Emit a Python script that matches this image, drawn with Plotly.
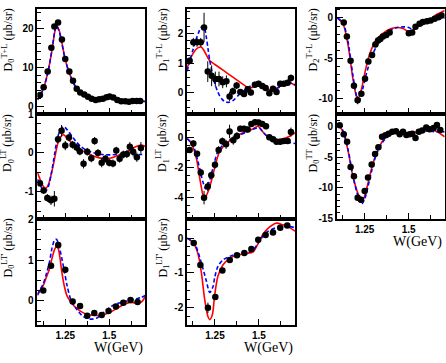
import plotly.graph_objects as go

# ---------------- data ----------------
# Panel A: D0 T+L
W_A = [1.106,1.127,1.150,1.171,1.188,1.209,1.231,1.250,1.273,1.294,1.315,1.335,1.358,1.379,1.400,1.423,1.443,1.464,1.485,1.502,1.523,1.546,1.568,1.591,1.612,1.633,1.656,1.676]
V_A = [2.85,4.85,8.9,15.0,20.5,21.5,17.1,12.1,8.9,6.5,4.5,3.5,3.0,2.4,1.9,1.6,1.75,1.9,2.3,2.5,2.2,1.6,1.25,1.25,1.1,1.35,1.35,1.35]
E_A = [0.3,0.3,0.4,0.5,0.5,0.5,0.5,0.4,0.3,0.3,0.3,0.2,0.2,0.2,0.2,0.2,0.2,0.2,0.2,0.2,0.2,0.2,0.2,0.2,0.2,0.2,0.2,0.2]
CW_A = [1.092,1.10,1.125,1.15,1.175,1.19,1.20,1.215,1.23,1.25,1.275,1.30,1.325,1.35,1.375,1.40,1.425,1.45,1.475,1.50,1.525,1.55,1.575,1.60,1.625,1.65,1.675,1.705]
RED_A = [1.7,2.3,4.5,8.5,14.5,19.0,20.7,19.5,16.5,12.0,8.3,5.7,4.0,3.0,2.4,1.9,1.7,1.85,2.2,2.4,2.1,1.6,1.2,1.1,1.1,1.2,1.3,1.2]
BLUE_A = [1.6,2.2,4.4,8.4,14.6,19.2,20.6,19.3,16.3,11.9,8.2,5.6,3.9,2.9,2.3,1.8,1.6,1.8,2.1,2.3,2.0,1.5,1.1,1.0,1.1,1.2,1.3,1.2]

# Panel B: D0 LT
W_B = [1.106,1.127,1.148,1.169,1.188,1.209,1.229,1.250,1.271,1.292,1.315,1.333,1.354,1.375,1.398,1.417,1.436,1.457,1.478,1.500,1.521,1.540,1.559,1.580,1.600,1.617,1.636,1.657,1.680]
V_B = [-0.78,-0.97,-1.16,-1.22,-1.18,0.35,0.57,0.19,0.40,0.21,0.14,0.04,-0.28,0.03,-0.14,0.31,0.0,-0.25,-0.15,-0.25,-0.27,0.06,-0.15,-0.04,-0.03,0.16,0.03,-0.11,0.13]
E_B = [0.08,0.08,0.1,0.12,0.2,0.1,0.15,0.12,0.1,0.1,0.1,0.1,0.12,0.1,0.1,0.1,0.1,0.12,0.1,0.1,0.1,0.1,0.1,0.1,0.1,0.12,0.12,0.12,0.15]
CW_B = [1.092,1.11,1.125,1.14,1.155,1.17,1.185,1.20,1.215,1.24,1.26,1.29,1.31,1.34,1.37,1.40,1.43,1.46,1.48,1.51,1.54,1.57,1.60,1.63,1.65,1.68,1.705]
RED_B = [-0.5,-0.72,-0.86,-0.91,-0.8,-0.55,-0.25,0.1,0.35,0.47,0.38,0.25,0.18,0.08,0.0,-0.06,-0.11,-0.14,-0.15,-0.13,-0.08,-0.03,0.03,0.11,0.16,0.2,0.17]
BLUE_B = [-0.68,-0.85,-0.95,-0.98,-0.85,-0.55,-0.15,0.25,0.52,0.68,0.6,0.42,0.3,0.16,0.07,0.02,-0.02,-0.04,-0.05,-0.05,-0.04,-0.04,-0.03,-0.03,-0.04,-0.04,-0.04]

# Panel C: D0 LT'
W_C = [1.125,1.169,1.210,1.250,1.292,1.334,1.375,1.415,1.457,1.496,1.538,1.580,1.621,1.661]
V_C = [0.25,0.86,1.37,0.76,-0.02,-0.13,-0.37,-0.30,-0.35,-0.25,-0.14,-0.05,0.02,-0.03]
E_C = [0.04,0.05,0.06,0.05,0.04,0.03,0.04,0.03,0.03,0.03,0.03,0.03,0.03,0.03]
CW_C = [1.092,1.11,1.125,1.14,1.16,1.175,1.19,1.20,1.21,1.22,1.23,1.245,1.26,1.28,1.31,1.35,1.39,1.43,1.47,1.51,1.55,1.59,1.62,1.65,1.68,1.705]
RED_C = [0.13,0.28,0.38,0.55,0.78,1.05,1.27,1.33,1.28,1.05,0.72,0.35,0.12,-0.02,-0.17,-0.29,-0.35,-0.36,-0.34,-0.27,-0.17,-0.08,-0.04,-0.05,-0.04,0.1]
BLUE_C = [0.16,0.3,0.42,0.62,0.95,1.3,1.5,1.51,1.42,1.25,1.05,0.72,0.38,0.05,-0.18,-0.38,-0.45,-0.42,-0.28,-0.14,-0.06,-0.02,0.01,0.04,0.08,0.13]

# Panel D: D1 T+L
W_D = [1.106,1.127,1.148,1.169,1.188,1.209,1.231,1.252,1.273,1.294,1.315,1.333,1.352,1.373,1.394,1.415,1.436,1.454,1.477,1.498,1.519,1.538,1.559,1.580,1.600,1.621,1.642,1.663,1.682]
V_D = [1.08,1.70,1.70,1.70,2.20,0.71,0.57,0.46,0.46,0.35,0.38,-0.13,0.05,0.24,0.02,-0.05,0.11,0.0,0.27,0.30,0.22,0.16,-0.02,0.13,0.02,0.30,0.30,0.33,0.49]
E_D = [0.1,0.15,0.15,0.15,0.5,0.35,0.35,0.25,0.25,0.2,0.2,0.15,0.12,0.12,0.1,0.1,0.1,0.1,0.1,0.1,0.1,0.1,0.1,0.1,0.1,0.1,0.1,0.1,0.12]
CW_D_RED = [1.092,1.11,1.125,1.14,1.155,1.172,1.19,1.21,1.22,1.25,1.30,1.35,1.40,1.43,1.45,1.48,1.50,1.53,1.55,1.57,1.60,1.63,1.66,1.69,1.705]
RED_D = [0.82,1.15,1.32,1.45,1.52,1.54,1.4,1.17,1.08,0.95,0.74,0.53,0.32,0.2,0.16,0.22,0.26,0.22,0.13,0.08,0.15,0.26,0.33,0.3,0.24]
CW_D_BLUE = [1.092,1.11,1.125,1.14,1.155,1.17,1.182,1.192,1.201,1.21,1.22,1.235,1.248,1.262,1.277,1.29,1.305,1.324,1.352,1.39,1.428,1.466,1.494,1.523,1.561,1.599,1.636,1.674,1.705]
BLUE_D = [0.72,1.15,1.45,1.75,2.0,2.2,2.25,2.15,1.87,1.5,1.1,0.65,0.33,0.08,-0.11,-0.22,-0.3,-0.33,-0.27,-0.05,0.13,0.27,0.33,0.24,0.09,0.13,0.24,0.33,0.27]

# Panel E: D1 LT
W_E = [1.106,1.127,1.148,1.169,1.188,1.209,1.229,1.250,1.271,1.292,1.313,1.333,1.354,1.375,1.394,1.415,1.436,1.457,1.478,1.498,1.519,1.540,1.559,1.580,1.600,1.621,1.642,1.663,1.682]
V_E = [-0.80,-0.37,-1.06,-2.31,-3.98,-3.24,-2.49,-1.79,-0.80,-0.22,-0.43,0.43,-0.15,0.13,0.61,0.61,0.56,0.93,1.04,1.02,0.93,0.78,0.05,-0.09,-0.26,-0.26,-0.2,-0.2,0.39]
E_E = [0.2,0.2,0.2,0.25,0.45,0.3,0.25,0.25,0.25,0.25,0.3,0.45,0.3,0.25,0.2,0.2,0.2,0.2,0.2,0.2,0.2,0.2,0.2,0.2,0.2,0.2,0.2,0.2,0.3]
CW_E_RED = [1.092,1.116,1.144,1.163,1.182,1.191,1.21,1.23,1.258,1.277,1.315,1.372,1.428,1.466,1.494,1.523,1.551,1.589,1.627,1.665,1.705]
RED_E = [-0.04,-0.37,-1.34,-2.64,-3.83,-4.04,-3.6,-2.85,-1.56,-0.9,-0.37,0.13,0.43,0.6,0.78,0.39,0.06,-0.09,-0.09,0.06,0.35]
CW_E_BLUE = [1.092,1.125,1.153,1.182,1.197,1.216,1.239,1.267,1.305,1.372,1.428,1.485,1.504,1.532,1.561,1.599,1.656,1.705]
BLUE_E = [-0.04,-0.48,-1.56,-2.96,-3.4,-2.96,-1.99,-0.9,-0.37,0.1,0.39,0.65,0.65,0.28,0.0,-0.15,-0.26,-0.37]

# Panel F: D1 LT'
W_F = [1.129,1.167,1.210,1.252,1.292,1.334,1.375,1.417,1.457,1.496,1.538,1.580,1.621,1.661]
V_F = [-0.14,-0.77,-2.0,-1.69,-0.93,-0.63,-0.49,-0.43,-0.31,-0.05,0.09,0.16,0.30,0.36]
E_F = [0.04,0.05,0.15,0.08,0.06,0.04,0.04,0.03,0.03,0.03,0.03,0.03,0.03,0.03]
CW_F_RED = [1.092,1.125,1.153,1.173,1.191,1.21,1.22,1.235,1.248,1.267,1.295,1.334,1.372,1.428,1.466,1.494,1.523,1.561,1.599,1.636,1.674,1.705]
RED_F = [0.0,-0.12,-0.44,-1.0,-1.74,-2.25,-2.34,-2.2,-1.65,-1.09,-0.77,-0.58,-0.49,-0.44,-0.4,-0.17,0.11,0.32,0.43,0.38,0.3,0.2]
CW_F_BLUE = [1.092,1.135,1.173,1.201,1.22,1.239,1.248,1.267,1.295,1.352,1.428,1.466,1.504,1.542,1.599,1.656,1.705]
BLUE_F = [0.0,-0.17,-0.72,-1.23,-1.56,-1.39,-1.14,-0.81,-0.63,-0.49,-0.43,-0.35,-0.07,0.16,0.3,0.34,0.3]

# Panel G: D2 T+L
W_G = [1.131,1.149,1.170,1.189,1.210,1.231,1.252,1.271,1.292,1.311,1.326,1.339,1.354,1.373,1.392,1.501,1.520,1.539,1.562,1.581,1.604,1.625,1.648,1.669,1.688]
V_G = [-0.56,-2.3,-5.3,-8.4,-10.2,-9.4,-7.55,-5.4,-4.6,-3.3,-2.8,-2.6,-2.3,-2.1,-1.8,-1.9,-1.8,-1.1,-0.7,-0.5,-0.4,-0.3,-0.1,0.1,0.3]
E_G = [0.2,0.2,0.3,0.4,0.5,0.4,0.4,0.3,0.3,0.3,0.2,0.2,0.2,0.2,0.2,0.2,0.2,0.2,0.2,0.2,0.2,0.2,0.2,0.2,0.2]
CW_G_RED = [1.095,1.126,1.155,1.183,1.203,1.212,1.231,1.25,1.278,1.316,1.373,1.42,1.468,1.506,1.534,1.572,1.619,1.657,1.68,1.705]
RED_G = [0.0,-0.68,-3.3,-7.5,-9.7,-10.0,-8.9,-6.9,-4.5,-2.7,-1.6,-1.2,-1.29,-1.77,-1.37,-0.68,-0.28,0.4,0.65,0.92]
CW_G_BLUE = [1.095,1.126,1.155,1.183,1.208,1.222,1.24,1.26,1.288,1.326,1.373,1.43,1.468,1.496,1.524,1.562,1.619,1.666,1.705]
BLUE_G = [0.0,-0.56,-2.9,-7.1,-9.9,-10.1,-8.7,-6.9,-4.9,-3.2,-1.9,-1.2,-1.1,-1.15,-1.4,-1.0,-0.5,-0.15,0.0]

# Panel H: D0 TT
W_H = [1.108,1.131,1.150,1.170,1.189,1.210,1.229,1.250,1.269,1.290,1.309,1.328,1.349,1.368,1.386,1.407,1.428,1.449,1.468,1.487,1.506,1.521,1.539,1.558,1.577,1.600,1.619,1.642,1.661,1.680]
V_H = [0.15,-1.3,-2.5,-6.6,-8.1,-11.6,-11.9,-10.5,-8.3,-6.2,-4.5,-3.4,-1.7,-1.45,-1.2,-0.9,-0.8,-1.3,-0.9,-1.4,-1.3,-1.2,-1.9,-0.9,-0.7,-0.2,-0.5,-0.3,0.2,-0.6]
E_H = [0.2,0.2,0.3,0.4,0.5,0.5,0.5,0.5,0.4,0.3,0.3,0.3,0.2,0.2,0.2,0.2,0.2,0.2,0.2,0.2,0.2,0.2,0.2,0.2,0.2,0.2,0.2,0.2,0.2,0.2]
CW_H_RED = [1.098,1.126,1.155,1.183,1.212,1.231,1.244,1.263,1.288,1.316,1.354,1.392,1.43,1.468,1.506,1.543,1.581,1.619,1.657,1.705]
RED_H = [0.25,-0.8,-3.9,-8.1,-10.9,-12.0,-11.7,-9.9,-7.0,-4.4,-2.3,-1.3,-0.8,-1.0,-1.2,-0.9,-0.5,-0.5,-0.8,-1.7]
CW_H_BLUE = [1.098,1.126,1.155,1.183,1.212,1.233,1.25,1.27,1.29,1.316,1.354,1.392,1.43,1.468,1.506,1.543,1.581,1.619,1.657,1.705]
BLUE_H = [0.3,-0.7,-3.7,-8.0,-11.3,-12.6,-11.8,-9.6,-7.2,-4.6,-2.5,-1.5,-1.0,-1.1,-1.4,-1.2,-0.8,-0.8,-0.9,-0.9]

# axis titles and ticks
TITLES = {
    "A": "D<sub>0</sub><sup>T+L</sup> (μb/sr)",
    "B": "D<sub>0</sub><sup>LT</sup> (μb/sr)",
    "C": "D<sub>0</sub><sup>LT'</sup> (μb/sr)",
    "D": "D<sub>1</sub><sup>T+L</sup> (μb/sr)",
    "E": "D<sub>1</sub><sup>LT</sup> (μb/sr)",
    "F": "D<sub>1</sub><sup>LT'</sup> (μb/sr)",
    "G": "D<sub>2</sub><sup>T+L</sup> (μb/sr)",
    "H": "D<sub>0</sub><sup>TT</sup> (μb/sr)",
}
YTICKS = {
    "A": ([0, 10, 20], ["0", "10", "20"], 2),
    "B": ([-1, 0, 1], ["-1", "0", "1"], 0.25),
    "C": ([0, 1, 2], ["0", "1", "2"], 0.25),
    "D": ([0, 1, 2], ["0", "1", "2"], 0.25),
    "E": ([-4, -2, 0], ["-4", "-2", "0"], 0.5),
    "F": ([-2, -1, 0], ["-2", "-1", "0"], 0.25),
    "G": ([-10, -5, 0], ["-10", "-5", "0"], 1),
    "H": ([-15, -10, -5, 0], ["-15", "-10", "-5", "0"], 1),
}
YRANGES = {
    "A": [-2, 25], "B": [-1.7, 1.005], "C": [-0.6, 2.01], "D": [-0.72, 2.83],
    "E": [-5.4, 1.6], "F": [-2.5, 0.55], "G": [-11.9, 1.13], "H": [-15.02, 2],
}
XTICKVALS = [1.25, 1.5]
XTICKTEXT = ["1.25", "1.5"]
XRANGE = [1.091, 1.705]
XTITLE = "W(GeV)"

# ---------------- layout geometry (window pixels) ----------------
FW, FH = 446, 363
COL_LEFT = [37.3, 187.0, 336.7]
PW = 108.0
ROW_TOP = [4.0, 112.0, 220.0]
ROW_BOT = [112.0, 220.0, 329.3]


def px_x(x):
    return x / FW


def px_y(y):
    return 1 - y / FH


panels = [
    ("A", 0, 0, W_A, V_A, E_A, CW_A, RED_A, CW_A, BLUE_A, False),
    ("B", 0, 1, W_B, V_B, E_B, CW_B, RED_B, CW_B, BLUE_B, False),
    ("C", 0, 2, W_C, V_C, E_C, CW_C, RED_C, CW_C, BLUE_C, True),
    ("D", 1, 0, W_D, V_D, E_D, CW_D_RED, RED_D, CW_D_BLUE, BLUE_D, False),
    ("E", 1, 1, W_E, V_E, E_E, CW_E_RED, RED_E, CW_E_BLUE, BLUE_E, False),
    ("F", 1, 2, W_F, V_F, E_F, CW_F_RED, RED_F, CW_F_BLUE, BLUE_F, True),
    ("G", 2, 0, W_G, V_G, E_G, CW_G_RED, RED_G, CW_G_BLUE, BLUE_G, False),
    ("H", 2, 1, W_H, V_H, E_H, CW_H_RED, RED_H, CW_H_BLUE, BLUE_H, True),
]

fig = go.Figure()
layout = dict(
    width=FW, height=FH, margin=dict(l=0, r=0, t=0, b=0),
    paper_bgcolor="white", plot_bgcolor="white", showlegend=False,
)
annotations = []
TICKFONT = dict(family="Liberation Sans", size=10, color="black", weight="bold")
TITLEFONT = dict(family="Liberation Serif", size=12, color="black")
TITLE_X = [8, 163, 313]

for i, (key, col, row, wx, vy, ey, cwr, red, cwb, blue, bottom) in enumerate(panels):
    n = i + 1
    xa = "x" if n == 1 else f"x{n}"
    ya = "y" if n == 1 else f"y{n}"
    x0 = COL_LEFT[col]
    xdom = [px_x(x0), min(1, px_x(x0 + PW))]
    ydom = [px_y(ROW_BOT[row]), px_y(ROW_TOP[row])]
    fig.add_trace(go.Scatter(x=cwr, y=red, mode="lines", xaxis=xa, yaxis=ya,
                             line=dict(color="#ff0000", width=1.6, shape="spline", smoothing=0.8),
                             hoverinfo="skip"))
    fig.add_trace(go.Scatter(x=cwb, y=blue, mode="lines", xaxis=xa, yaxis=ya,
                             line=dict(color="#0000ff", width=1.6, dash="4px,2.5px", shape="spline", smoothing=0.8),
                             hoverinfo="skip"))
    fig.add_trace(go.Scatter(x=wx, y=vy, mode="markers", xaxis=xa, yaxis=ya,
                             marker=dict(color="black", size=6.5),
                             error_y=dict(type="data", array=ey, visible=True, color="black", thickness=1, width=0)))
    xkey = "xaxis" if n == 1 else f"xaxis{n}"
    ykey = "yaxis" if n == 1 else f"yaxis{n}"
    layout[xkey] = dict(
        domain=xdom, anchor=ya, range=XRANGE, showgrid=False, zeroline=False,
        showline=True, linecolor="black", linewidth=1.5, mirror=True,
        ticks="inside", ticklen=6, tickcolor="black", tickwidth=1,
        tickvals=XTICKVALS, ticktext=XTICKTEXT, showticklabels=bottom,
        tickfont=TICKFONT,
        minor=dict(ticks="inside", ticklen=4, dtick=0.125, tick0=1.0, tickcolor="black", showgrid=False),
    )
    tv, tt, mdt = YTICKS[key]
    layout[ykey] = dict(
        domain=ydom, anchor=xa, range=YRANGES[key], showgrid=False, zeroline=False,
        showline=True, linecolor="black", linewidth=1.5, mirror=True,
        ticks="inside", ticklen=7, tickcolor="black", tickwidth=1,
        tickvals=tv, ticktext=tt, tickfont=TICKFONT,
        minor=dict(ticks="inside", ticklen=3.5, dtick=mdt, tick0=0, tickcolor="black", showgrid=False),
    )
    annotations.append(dict(
        text=TITLES[key], textangle=-90, showarrow=False,
        xref="paper", yref="paper", x=px_x(TITLE_X[col]), y=min(1, px_y(ROW_TOP[row] - 2)),
        xanchor="center", yanchor="top", font=TITLEFONT,
    ))
    if bottom:
        annotations.append(dict(
            text=XTITLE, showarrow=False, xref="paper", yref="paper",
            x=px_x(min(x0 + PW, 444)), y=px_y(ROW_BOT[row] + 23.5),
            xanchor="right", yanchor="middle",
            font=dict(family="Liberation Serif", size=14, color="black"),
        ))

layout["annotations"] = annotations
fig.update_layout(**layout)
# the page body has a default 8px margin; remove it so the figure sits at the window's corner
fig.write_html("out.html", config={"displayModeBar": False},
               post_script="document.body.style.margin='0px';")
